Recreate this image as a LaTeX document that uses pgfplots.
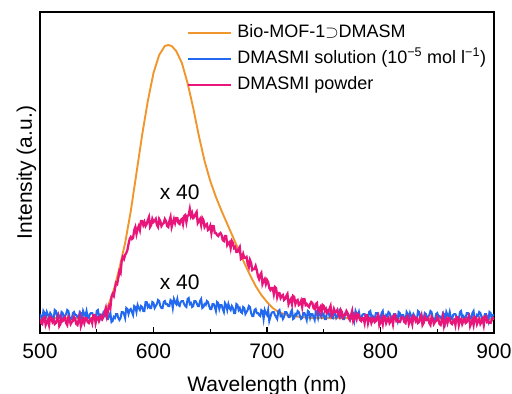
\documentclass[border=0pt]{standalone}
\usepackage{pgfplots}
\pgfplotsset{compat=1.18}
\usepackage{fontspec}
\setmainfont{Liberation Sans}
\definecolor{cOrange}{RGB}{240,150,45}
\definecolor{cBlue}{RGB}{35,105,240}
\definecolor{cPink}{RGB}{232,22,122}
\begin{document}
\begin{tikzpicture}
\begin{axis}[
  at={(0pt,0pt)}, anchor=south west,
  width=454pt, height=321pt, scale only axis,
  xmin=500, xmax=900, ymin=0, ymax=321,
  xtick={500,600,700,800,900}, minor xtick={550,650,750,850},
  ytick=\empty,
  xtick pos=bottom,
  tick align=inside,
  major tick length=6pt, minor tick length=4pt,
  every tick/.style={black, line width=1.2pt},
  axis line style={line width=1.5pt},
  /pgf/number format/assume math mode=true,
  xticklabel style={font=\fontsize{21}{24}\selectfont, anchor=base, yshift=-25pt},
  xlabel={Wavelength (nm)}, ylabel={Intensity (a.u.)},
  xlabel style={font=\fontsize{21}{24}\selectfont, at={(axis description cs:0.5,0)}, anchor=base, yshift=-58pt},
  ylabel style={font=\fontsize{21}{24}\selectfont, at={(axis description cs:0,0.5)}, anchor=base, yshift=8pt},
  legend style={draw=none, fill=none, at={(axis description cs:0.324,0.969)}, anchor=north west,
    font=\fontsize{18}{20}\selectfont, inner sep=0pt, row sep=5pt, column sep=3pt,
    nodes={text height=13pt, text depth=4pt, inner sep=2pt}},
  legend cell align=left,
  legend image code/.code={\draw[#1, line width=2pt] (0pt,0pt) -- (43pt,0pt);},
]
\addplot[cOrange, line width=1.9pt] coordinates {
(500,15) (550,15) (555,18) (560,27) (565,43) (570,65) (575,90) (580,122) (585,160)
(590,198) (595,232) (600,260) (605,278) (610,287) (613,288) (616,287) (620,282)
(625,270) (630,250) (635,225) (640,197) (645,172) (650,152) (655,136) (660,122)
(665,109) (670,96) (675,83) (680,70) (685,58) (690,47) (695,38) (700,31) (705,25)
(710,21) (720,17) (740,15) (900,14)};
\addlegendentry{Bio-MOF-1$\supset$DMASM}
\addplot[cBlue, line width=2pt] table[x expr={500+\coordindex}, y index=0, header=false, row sep=\\] {
19\\16\\13\\22\\20\\15\\21\\18\\16\\20\\18\\14\\14\\23\\22\\17\\19\\16\\15\\21\\
20\\15\\17\\19\\23\\22\\16\\14\\14\\20\\21\\18\\18\\16\\15\\21\\20\\13\\22\\19\\
17\\22\\16\\15\\19\\20\\20\\17\\15\\14\\22\\23\\17\\18\\14\\16\\21\\20\\18\\14\\
14\\18\\20\\11\\12\\16\\15\\19\\19\\15\\13\\15\\21\\21\\19\\15\\25\\24\\19\\23\\
24\\21\\18\\27\\26\\21\\28\\25\\23\\27\\26\\22\\22\\31\\31\\26\\28\\25\\25\\31\\
30\\25\\27\\29\\33\\32\\27\\25\\25\\31\\32\\29\\29\\27\\27\\33\\32\\25\\34\\31\\
29\\34\\28\\27\\31\\32\\32\\29\\27\\26\\34\\35\\29\\30\\26\\27\\32\\32\\30\\27\\
27\\32\\34\\25\\26\\29\\28\\32\\31\\27\\24\\24\\29\\29\\26\\22\\31\\30\\24\\28\\
28\\24\\21\\30\\28\\23\\29\\25\\23\\27\\25\\20\\20\\29\\28\\23\\25\\21\\20\\26\\
25\\19\\21\\23\\27\\26\\20\\17\\17\\23\\24\\20\\20\\18\\17\\23\\22\\14\\23\\20\\
18\\23\\12\\16\\20\\21\\21\\18\\16\\14\\22\\23\\17\\18\\14\\16\\21\\21\\19\\16\\
16\\21\\23\\14\\15\\19\\18\\22\\21\\17\\14\\15\\20\\20\\17\\13\\22\\21\\15\\19\\
19\\16\\13\\22\\20\\15\\21\\18\\16\\20\\18\\14\\14\\23\\22\\17\\19\\16\\15\\21\\
20\\15\\17\\19\\23\\22\\16\\14\\14\\20\\21\\18\\18\\16\\15\\21\\20\\13\\22\\19\\
17\\21\\15\\14\\18\\19\\19\\16\\14\\13\\21\\22\\16\\17\\13\\15\\20\\20\\18\\15\\
15\\20\\22\\13\\14\\18\\17\\21\\20\\16\\13\\14\\19\\19\\16\\12\\21\\20\\14\\18\\
18\\15\\12\\21\\19\\14\\20\\17\\15\\19\\17\\13\\13\\22\\21\\16\\18\\15\\14\\20\\
19\\14\\16\\18\\22\\21\\15\\13\\13\\19\\20\\17\\17\\15\\14\\20\\19\\12\\21\\18\\
16\\21\\15\\14\\18\\19\\19\\16\\14\\13\\21\\22\\16\\17\\13\\15\\20\\20\\18\\15\\
15\\20\\22\\13\\14\\18\\17\\21\\20\\16\\13\\14\\19\\19\\16\\12\\21\\20\\14\\18\\
18\\
};
\addlegendentry{DMASMI solution (10\textsuperscript{−5} mol l\textsuperscript{−1})}
\addplot[cPink, line width=2.3pt] table[x expr={500+\coordindex}, y index=0, header=false, row sep=\\] {
14\\10\\9\\15\\16\\8\\11\\13\\8\\16\\15\\11\\13\\9\\10\\14\\17\\7\\9\\15\\
12\\13\\15\\10\\8\\16\\14\\9\\11\\12\\16\\14\\9\\8\\13\\17\\7\\11\\14\\10\\
15\\15\\11\\10\\13\\14\\10\\18\\18\\10\\15\\16\\12\\15\\17\\14\\16\\21\\25\\17\\
22\\27\\25\\36\\39\\37\\44\\50\\49\\55\\62\\60\\72\\76\\74\\78\\80\\83\\89\\94\\
96\\94\\95\\103\\106\\99\\104\\107\\103\\112\\112\\108\\111\\107\\109\\113\\116\\106\\108\\114\\
111\\112\\114\\108\\106\\114\\112\\107\\109\\110\\114\\112\\107\\106\\112\\116\\106\\110\\114\\110\\
115\\115\\110\\109\\113\\114\\109\\117\\118\\111\\117\\118\\124\\117\\120\\115\\116\\119\\121\\110\\
112\\114\\108\\115\\113\\106\\108\\109\\103\\104\\107\\100\\107\\107\\100\\100\\98\\97\\99\\100\\
98\\93\\92\\97\\97\\88\\90\\91\\85\\92\\90\\85\\86\\81\\81\\84\\86\\74\\75\\79\\
75\\75\\76\\69\\66\\73\\70\\63\\64\\64\\67\\63\\57\\54\\58\\60\\49\\52\\54\\49\\
53\\51\\45\\43\\45\\45\\39\\46\\45\\36\\40\\40\\35\\37\\38\\33\\34\\37\\39\\29\\
32\\34\\29\\37\\36\\29\\32\\33\\28\\29\\32\\26\\34\\34\\28\\29\\27\\26\\29\\31\\
30\\25\\24\\29\\30\\21\\24\\26\\21\\28\\27\\22\\24\\20\\21\\24\\27\\17\\19\\24\\
21\\21\\23\\18\\16\\23\\21\\16\\18\\18\\22\\20\\15\\13\\18\\22\\12\\15\\18\\14\\
19\\18\\13\\12\\15\\15\\10\\18\\18\\10\\15\\15\\10\\13\\15\\11\\12\\16\\18\\8\\
11\\14\\9\\17\\16\\10\\13\\15\\10\\12\\15\\9\\17\\18\\12\\13\\11\\11\\14\\16\\
15\\11\\10\\16\\17\\9\\12\\14\\9\\17\\16\\12\\14\\10\\11\\15\\18\\8\\10\\16\\
13\\13\\15\\10\\8\\16\\14\\9\\11\\12\\16\\14\\9\\8\\13\\17\\7\\11\\14\\10\\
15\\15\\10\\9\\12\\13\\8\\16\\16\\8\\13\\14\\9\\12\\14\\10\\11\\15\\17\\7\\
10\\13\\8\\16\\15\\9\\12\\14\\9\\11\\14\\8\\16\\17\\11\\12\\10\\10\\13\\15\\
14\\
};
\addlegendentry{DMASMI powder}
\node[font=\fontsize{21}{24}\selectfont, anchor=base] at (axis cs:623,133) {x 40};
\node[font=\fontsize{21}{24}\selectfont, anchor=base] at (axis cs:623,43) {x 40};
\end{axis}
\pgfresetboundingbox
\path[use as bounding box] (-40pt,-61pt) rectangle (472pt,333pt);
\end{tikzpicture}
\end{document}
